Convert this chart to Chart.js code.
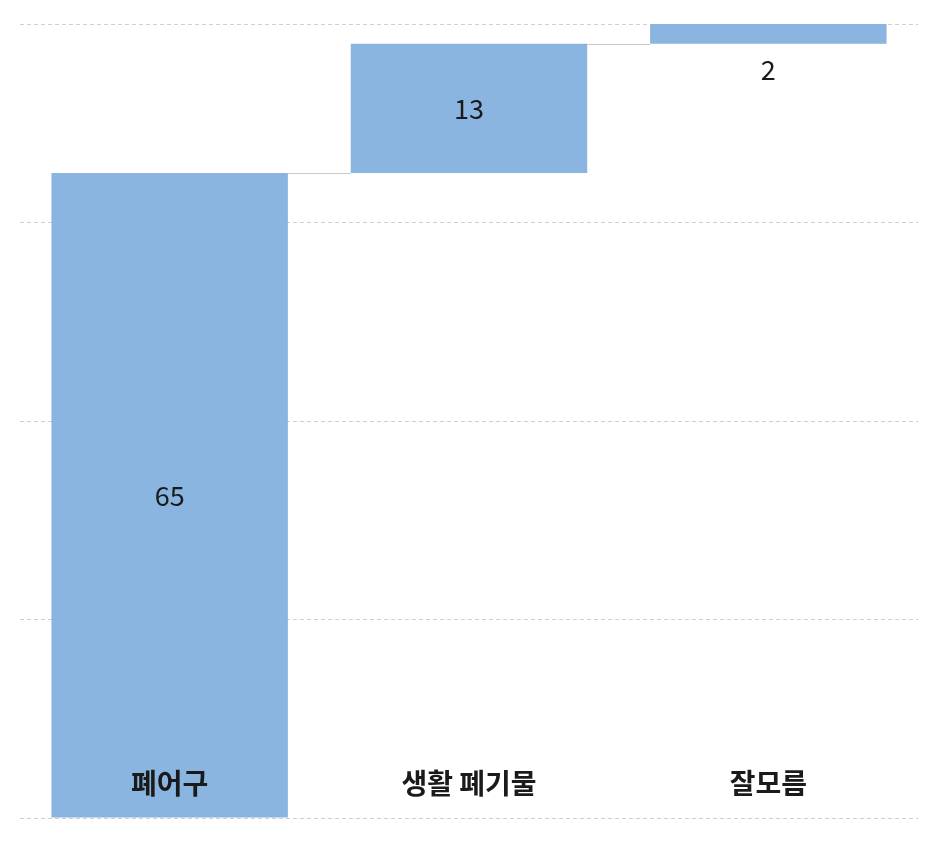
<!DOCTYPE html>
<html><head><meta charset="utf-8">
<script src="https://cdn.jsdelivr.net/npm/chart.js@4"></script>
<style>html,body{margin:0;padding:0;background:#fff}#w{width:947px;height:847px}</style>
</head><body><div id="w"><canvas id="c"></canvas></div>
<script>
const categories = ['폐어구', '생활 폐기물', '잘모름'];
const values = [65, 13, 2];
const yTicks = [0, 20, 40, 60, 80];

const ranges = [];
let acc = 0;
for (const v of values) { ranges.push([acc, acc + v]); acc += v; }

const labelPlugin = {
  id: 'wf',
  afterDatasetsDraw(chart) {
    const ctx = chart.ctx;
    const meta = chart.getDatasetMeta(0);
    const y = chart.scales.y;
    const area = chart.chartArea;
    ctx.save();
    // connectors
    ctx.strokeStyle = '#c8c8c8'; ctx.lineWidth = 1;
    for (let i = 0; i < meta.data.length - 1; i++) {
      const a = meta.data[i], b = meta.data[i + 1];
      const yy = Math.round(y.getPixelForValue(ranges[i][1])) + 0.5;
      ctx.beginPath();
      ctx.moveTo(a.x + a.width / 2, yy);
      ctx.lineTo(b.x - b.width / 2, yy);
      ctx.stroke();
    }
    ctx.fillStyle = '#1a1a1a';
    ctx.textAlign = 'center'; ctx.textBaseline = 'middle';
    meta.data.forEach((bar, i) => {
      const top = y.getPixelForValue(ranges[i][1]);
      const bot = y.getPixelForValue(ranges[i][0]);
      ctx.font = '27px "Noto Sans CJK KR", sans-serif';
      let ly = (top + bot) / 2;
      if (bot - top < 40) ly = bot + 26;
      ctx.fillText(String(values[i]), bar.x, ly);
      ctx.font = 'bold 28px "Noto Sans CJK KR", sans-serif';
      ctx.fillText(categories[i], bar.x, area.bottom - 35);
    });
    ctx.restore();
  }
};

new Chart(document.getElementById('c'), {
  type: 'bar',
  data: { labels: categories, datasets: [{ data: ranges, backgroundColor: '#8ab5e0', borderWidth: 0, barPercentage: 0.79, categoryPercentage: 1 }] },
  options: {
    responsive: true, maintainAspectRatio: false, animation: false,
    layout: { padding: { left: 20, right: 29, top: 24, bottom: 29 } },
    plugins: { legend: { display: false }, tooltip: { enabled: false } },
    scales: {
      x: { display: false },
      y: {
        min: 0, max: 80,
        afterBuildTicks(s) { s.ticks = yTicks.map(v => ({ value: v })); },
        ticks: { display: false },
        border: { display: false },
        grid: { color: '#cfcfcf', lineWidth: 1, drawTicks: false, tickLength: 0 },
        border: { display: false, dash: [4, 3] }
      }
    }
  },
  plugins: [labelPlugin]
});
</script></body></html>
